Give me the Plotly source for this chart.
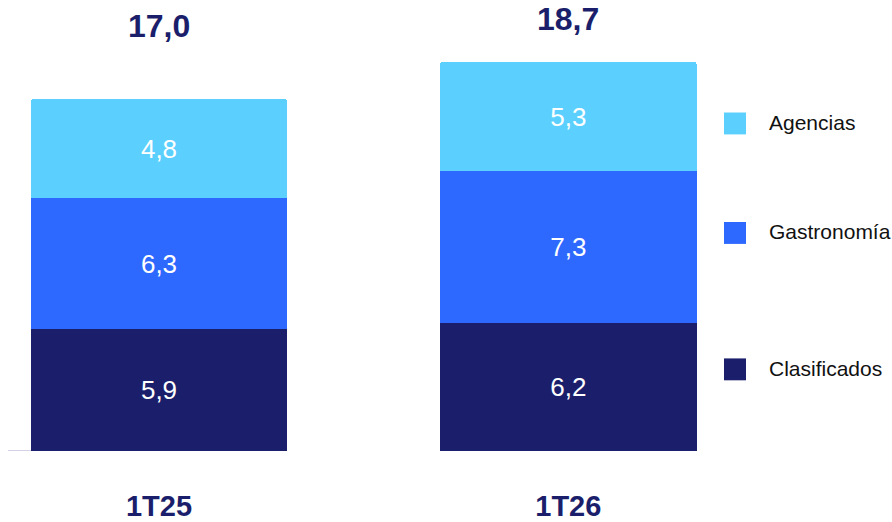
import plotly.graph_objects as go

categories = ["1T25", "1T26"]
clasificados = [5.9, 6.2]
gastronomia = [6.3, 7.3]
agencias = [4.8, 5.3]
totals = [17.0, 18.7]
series_names = ["Clasificados", "Gastronomía", "Agencias"]
colors = ["#1B1F6B", "#2E69FF", "#5BD0FF"]

def fmt(v):
    return f"{v:.1f}".replace(".", ",")

W, H = 892, 522
NAVY = "#1B1F6B"
FONT = "Liberation Sans, Arial, Helvetica, sans-serif"

fig = go.Figure()
for name, vals, col in zip(series_names, [clasificados, gastronomia, agencias], colors):
    fig.add_trace(go.Bar(
        x=categories, y=vals, name=name,
        marker=dict(color=col, line=dict(width=0)),
        width=0.627,
        text=[fmt(v) for v in vals], textposition="inside",
        insidetextanchor="middle",
        textfont=dict(color="white", size=26, family=FONT),
        showlegend=False, hoverinfo="skip",
    ))

# totals above bars
for cat, tot, yp in zip(categories, totals, [1 - 26 / 453, 1 - 19 / 453]):
    fig.add_annotation(x=cat, y=yp, xref="x", yref="paper", text=f"<b>{fmt(tot)}</b>",
                       showarrow=False, font=dict(size=32, color=NAVY, family=FONT),
                       yanchor="middle")

# custom legend
legend_y = [124, 234, 371]
for name, col, py in zip(["Agencias", "Gastronomía", "Clasificados"], [colors[2], colors[1], colors[0]], legend_y):
    fig.add_shape(type="rect", xref="paper", yref="paper",
                  x0=724 / W, x1=746 / W,
                  y0=1 - (py + 11) / 453, y1=1 - (py - 11) / 453,
                  fillcolor=col, line=dict(width=0), layer="above")
    fig.add_annotation(x=767 / W, y=1 - (py - 1) / 453, xref="paper", yref="paper",
                       text=name, showarrow=False, xanchor="left", yanchor="middle",
                       font=dict(size=21, color="#111111", family=FONT))

# partial baseline line
fig.add_shape(type="line", xref="paper", yref="y", x0=8 / W, x1=182 / W, y0=0, y1=0,
              line=dict(color="#D2D2E4", width=2), layer="below")

px_per_unit = 20.8
fig.update_layout(
    width=W, height=H,
    margin=dict(l=0, r=0, t=0, b=69),
    barmode="stack",
    barcornerradius=3,
    plot_bgcolor="white", paper_bgcolor="white",
    font=dict(family=FONT),
    xaxis=dict(range=[-159 / 409.3, (892 - 159) / 409.3], showgrid=False, zeroline=False,
               showline=False, ticks="", ticklabelstandoff=35,
               tickfont=dict(size=29, color=NAVY, family=FONT),
               tickvals=categories, ticktext=[f"<b>{c}</b>" for c in categories]),
    yaxis=dict(range=[0, 453 / px_per_unit], visible=False, showgrid=False, zeroline=False),
)

fig.write_html("out.html")
